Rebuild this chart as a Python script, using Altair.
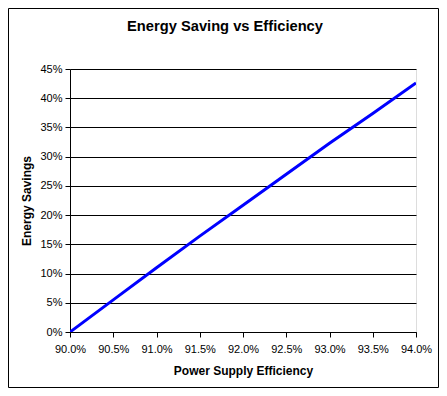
import altair as alt
import pandas as pd

# Values
efficiency = [0.900, 0.905, 0.910, 0.915, 0.920, 0.925, 0.930, 0.935, 0.940]
savings = [0.000, 0.055, 0.110, 0.164, 0.217, 0.270, 0.323, 0.374, 0.426]
x_ticks = [0.900, 0.905, 0.910, 0.915, 0.920, 0.925, 0.930, 0.935, 0.940]
y_ticks = [0.00, 0.05, 0.10, 0.15, 0.20, 0.25, 0.30, 0.35, 0.40, 0.45]
title_text = ["Energy Saving vs Efficiency"]

df = pd.DataFrame({"eff": efficiency, "sav": savings})
FONT = "Liberation Sans"

line = alt.Chart(df).mark_line(color="#0000FF", strokeWidth=3, clip=True).encode(
    x=alt.X("eff:Q",
            scale=alt.Scale(domain=[0.90, 0.94], nice=False, zero=False),
            axis=alt.Axis(values=x_ticks, format=".1%", title="Power Supply Efficiency",
                          grid=False, tickSize=5, labelPadding=6, titlePadding=11,
                          domainColor="black", tickColor="black", labelColor="black",
                          labelFont=FONT, labelFontSize=11, titleFont=FONT,
                          titleFontSize=12, titleFontWeight="bold", titleColor="black",
                          labelFlush=False)),
    y=alt.Y("sav:Q",
            scale=alt.Scale(domain=[0, 0.45], nice=False),
            axis=alt.Axis(values=y_ticks, format="%", title="Energy Savings",
                          grid=True, gridColor="black", gridOpacity=1, gridWidth=1,
                          tickSize=5, labelPadding=3, titlePadding=6,
                          domainColor="black", tickColor="black", labelColor="black",
                          labelFont=FONT, labelFontSize=11, titleFont=FONT,
                          titleFontSize=12, titleFontWeight="bold", titleColor="black")),
)

border = alt.Chart(pd.DataFrame({"a": [0]})).mark_rect(
    fill=None, stroke="black", strokeWidth=1
).encode(
    x=alt.value(-61.5), x2=alt.value(368.5), y=alt.value(-60.5), y2=alt.value(318.5)
)

title = alt.Chart(pd.DataFrame({"t": title_text})).mark_text(
    font=FONT, fontSize=14.7, fontWeight="bold", color="black",
    align="center", baseline="middle"
).encode(text="t:N", x=alt.value(155), y=alt.value(-42))

chart = alt.layer(border, line, title).properties(
    width=346,
    height=263,
    padding={"left": 62, "top": 61, "right": 23, "bottom": 56},
    autosize=alt.AutoSizeParams(type="none"),
).configure_view(stroke="#808080", strokeWidth=1).configure(background="white")

chart.save("out.html", embed_options={"renderer": "svg", "actions": False})
